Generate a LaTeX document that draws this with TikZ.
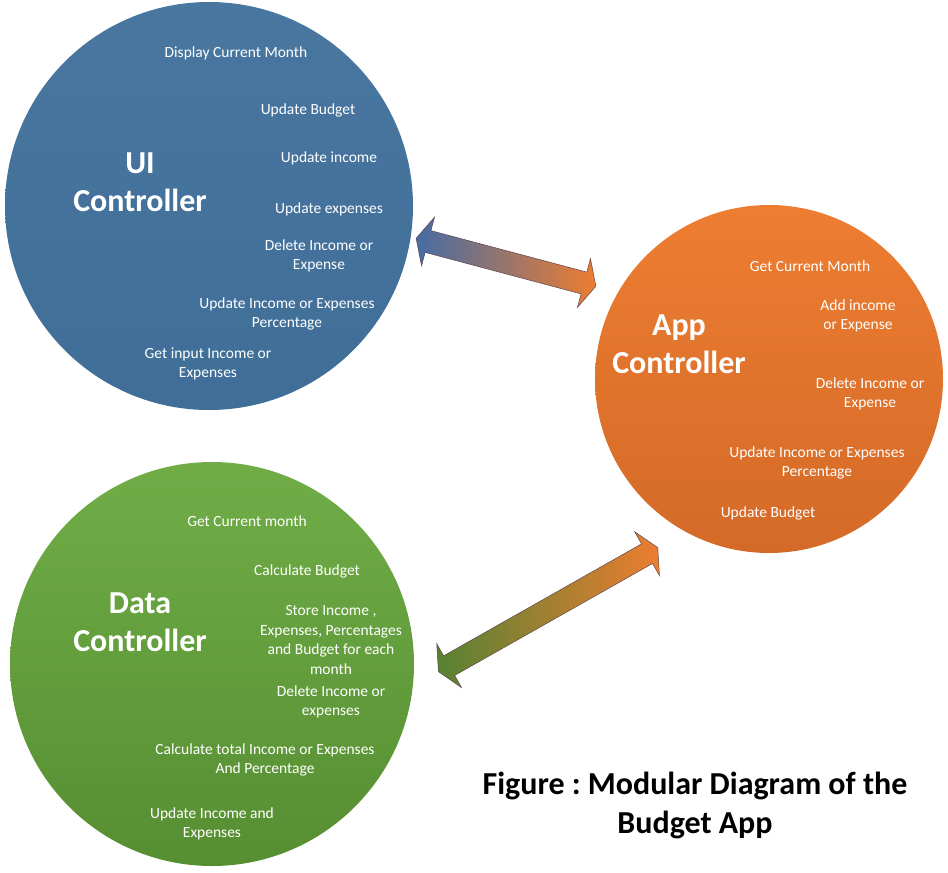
\documentclass[tikz,border=0pt]{standalone}
\usepackage{fontspec}
\setmainfont{Carlito}
\usetikzlibrary{shapes.arrows,calc}
\definecolor{uiblue}{RGB}{65,113,156}
\definecolor{appor}{RGB}{237,125,49}
\definecolor{appdark}{RGB}{212,106,40}
\definecolor{datagreen}{RGB}{112,173,71}
\definecolor{datadark}{RGB}{86,142,50}
\definecolor{arrowblue}{RGB}{70,108,165}
\definecolor{arrowgreen}{RGB}{86,130,50}
\definecolor{arrowline}{RGB}{95,70,75}
\frenchspacing
\begin{document}
\begin{tikzpicture}[x=1pt, y=-1pt,
    blob/.style={circle, inner sep=0pt},
    item/.style={text=white, align=center, font=\fontsize{15.5}{19.5}\selectfont},
    head/.style={text=white, align=center, font=\bfseries\fontsize{32}{38}\selectfont},
    twoway/.style={double arrow, draw=arrowline, line width=0.5pt, inner xsep=0pt, inner ysep=11pt, minimum width=50pt,
        double arrow head extend=14pt, double arrow tip angle=128}]
    \useasboundingbox (0,0) rectangle (948,873);
    \node[blob, minimum size=408pt, top color=uiblue!96!white, bottom color=uiblue!97!black] (ui) at (209,206) {};
    \node[blob, minimum size=348pt, top color=appor, bottom color=appdark] (app) at (769,379) {};
    \node[blob, minimum size=404pt, top color=datagreen, bottom color=datadark] (data) at (212,664) {};
    \coordinate (ua1) at (416,238.5);
    \coordinate (ua2) at (596,286);
    \coordinate (da1) at (438.3,671.7);
    \coordinate (da2) at (657.9,547.6);
    \node[twoway, left color=arrowblue, right color=appor, minimum height=186pt, rotate=-14.9] (uiapp) at ($(ua1)!0.5!(ua2)$) {};
    \node[twoway, left color=arrowgreen, right color=appor, minimum height=252pt, rotate=29.5] (dataapp) at ($(da1)!0.5!(da2)$) {};
    \node[head] (uiname) at (140,182) {UI\\Controller};
    \node[item] (ui1) at (236,53) {Display Current Month};
    \node[item] (ui2) at (308,110) {Update Budget};
    \node[item] (ui3) at (329,158) {Update income};
    \node[item] (ui4) at (329,209) {Update expenses};
    \node[item] (ui5) at (319,256) {Delete Income or\\Expense};
    \node[item] (ui6) at (287,314) {Update Income or Expenses\\Percentage};
    \node[item] (ui7) at (208,364) {Get input Income or\\Expenses};
    \node[head] (appname) at (679,344) {App\\Controller};
    \node[item] (app1) at (810,266) {Get Current Month};
    \node[item] (app2) at (858,316) {Add income\\or Expense};
    \node[item] (app3) at (870,394) {Delete Income or\\Expense};
    \node[item] (app4) at (817,463) {Update Income or Expenses\\Percentage};
    \node[item] (app5) at (768,513) {Update Budget};
    \node[head] (dataname) at (140,622) {Data\\Controller};
    \node[item] (data1) at (247,521) {Get Current month};
    \node[item] (data2) at (307,571) {Calculate Budget};
    \node[item] (data3) at (331,640) {Store Income ,\\Expenses, Percentages\\and Budget for each\\month};
    \node[item] (data4) at (331,702) {Delete Income or\\expenses};
    \node[item] (data5) at (265,760) {Calculate total Income or Expenses\\And Percentage};
    \node[item] (data6) at (212,824) {Update Income and\\Expenses};
    \node[align=center, font=\bfseries\fontsize{32}{39}\selectfont] (caption) at (695,805) {Figure : Modular Diagram of the\\Budget App};
\end{tikzpicture}
\end{document}
